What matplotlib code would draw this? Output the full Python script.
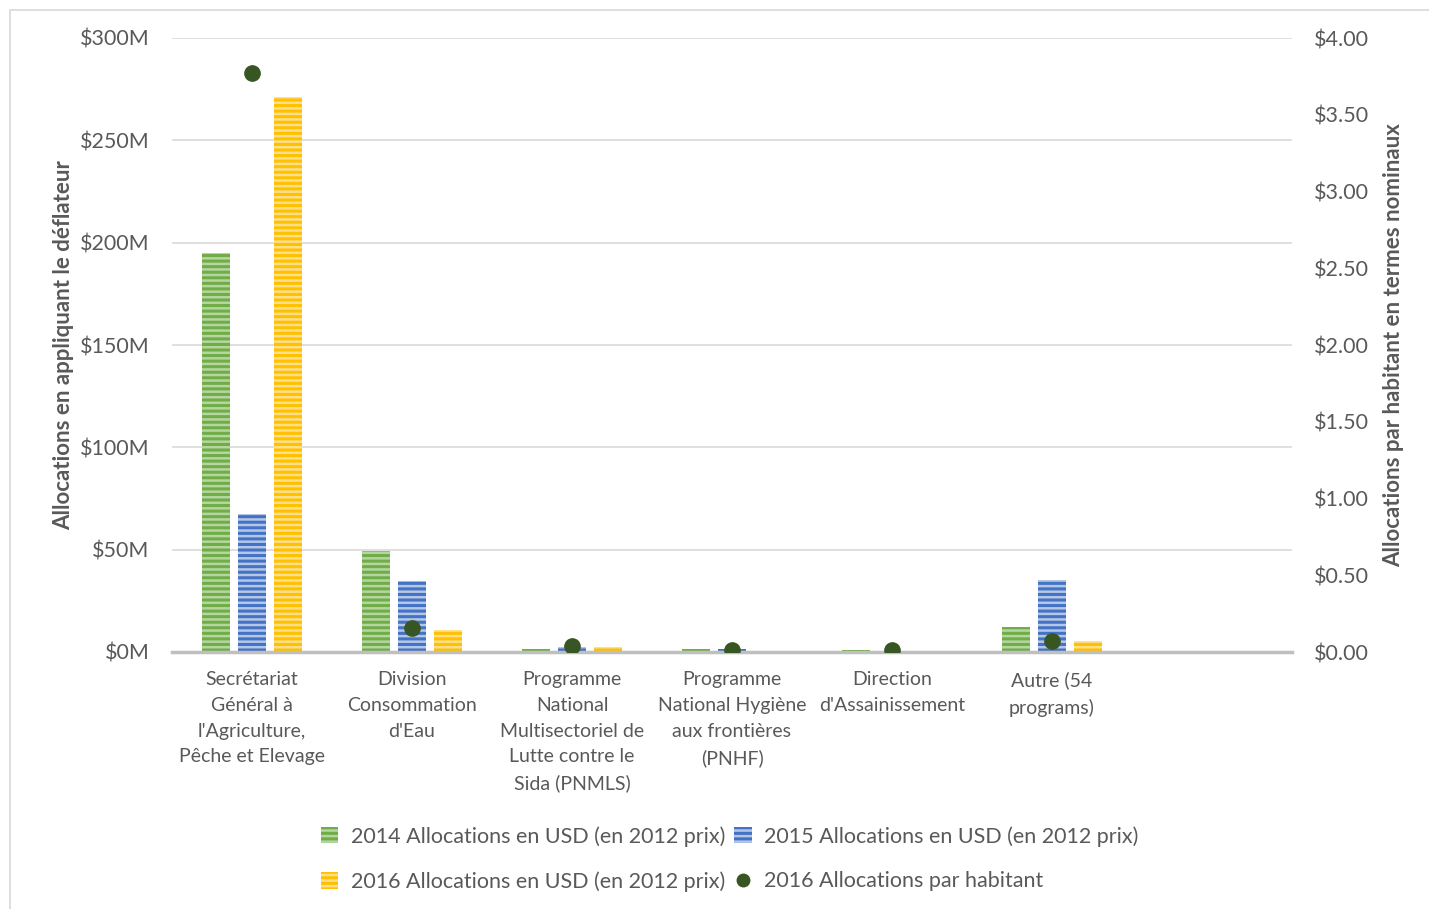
import numpy as np
import matplotlib.pyplot as plt
from matplotlib.lines import Line2D
from matplotlib.patches import Patch, Rectangle
from matplotlib.ticker import FuncFormatter

plt.rcParams['font.family'] = ['Lato', 'DejaVu Sans']
plt.rcParams['hatch.linewidth'] = 1.8

# data
categories = ["Secrétariat\nGénéral à\nl'Agriculture,\nPêche et Elevage",
              "Division\nConsommation\nd'Eau",
              "Programme\nNational\nMultisectoriel de\nLutte contre le\nSida (PNMLS)",
              "Programme\nNational Hygiène\naux frontières\n(PNHF)",
              "Direction\nd'Assainissement",
              "Autre (54\nprograms)",
              ""]
alloc_2014 = [195.0, 49.3, 1.5, 1.5, 1.0, 12.2, 0]      # millions USD
alloc_2015 = [67.4, 34.7, 2.5, 1.5, 0.3, 35.2, 0]
alloc_2016 = [271.0, 10.7, 2.5, 0.5, 0.5, 5.4, 0]
per_capita_2016 = [3.77, 0.156, 0.04, 0.013, 0.01, 0.072, np.nan]

series_labels = ["2014 Allocations en USD (en 2012 prix)",
                 "2015 Allocations en USD (en 2012 prix)",
                 "2016 Allocations en USD (en 2012 prix)",
                 "2016 Allocations par habitant"]
colors = ["#70ad47", "#4472c4", "#ffc000"]
stripe = ["#b5d6a0", "#b4c7e7", "#ffe08a"]
dot_color = "#375623"
txt = "#595959"

fig = plt.figure(figsize=(14.29, 9.09), dpi=100)
fig.patches.append(Rectangle((10/1429, -0.1), 1.1, (909-10)/909 + 0.1, transform=fig.transFigure,
                             fill=False, edgecolor="#d9d9d9", linewidth=1.2))
ax = fig.add_axes([172/1429, 1-652/909, 1120/1429, 614/909])
ax2 = ax.twinx()

x = np.arange(len(categories))
w = 0.18
offs = [-0.225, 0, 0.225]
for vals, c, sc, o in zip([alloc_2014, alloc_2015, alloc_2016], colors, stripe, offs):
    ax.bar(x + o, vals, w, color=c, edgecolor=sc, hatch='---', linewidth=0, zorder=3)

ax2.plot(x, per_capita_2016, 'o', color=dot_color, markersize=11, zorder=5, linestyle='none')

ax.set_xlim(-0.5, len(categories) - 0.5)
ax.set_ylim(0, 300)
ax.set_yticks(np.arange(0, 301, 50))
ax.yaxis.set_major_formatter(FuncFormatter(lambda v, p: f"${v:.0f}M"))
ax2.set_ylim(0, 4)
ax2.set_yticks(np.arange(0, 4.01, 0.5))
ax2.yaxis.set_major_formatter(FuncFormatter(lambda v, p: f"${v:.2f}"))

ax.grid(axis='y', color="#d9d9d9", linewidth=1.2, zorder=0)
ax.set_axisbelow(True)
for a in (ax, ax2):
    for s in a.spines.values():
        s.set_visible(False)
    a.tick_params(length=0, colors=txt, labelsize=15.5)
ax.spines['bottom'].set_visible(True)
ax.spines['bottom'].set_color("#bfbfbf")
ax.spines['bottom'].set_linewidth(2.5)
ax.spines['bottom'].set_zorder(4)
ax.tick_params(axis='y', pad=16)
ax2.tick_params(axis='y', pad=16)

ax.set_xticks(x)
ax.set_xticklabels(categories, fontsize=14, color=txt, linespacing=1.62)
ax.tick_params(axis='x', pad=14)

ax.set_ylabel("Allocations en appliquant le déflateur", fontsize=16, fontweight='bold', color=txt, labelpad=4)
ax2.set_ylabel("Allocations par habitant en termes nominaux", fontsize=16, fontweight='bold', color=txt, labelpad=10)

handles = [Patch(facecolor=c, edgecolor=sc, hatch='---', linewidth=0) for c, sc in zip(colors, stripe)]
handles.append(Line2D([], [], marker='o', color=dot_color, linestyle='none', markersize=9))
order = [0, 2, 1, 3]
fig.legend([handles[i] for i in order], [series_labels[i] for i in order], loc='center',
           bbox_to_anchor=(730/1429, 1-859/909), ncol=2,
           frameon=False, fontsize=15.5, labelcolor=txt, handlelength=0.8, handleheight=0.8,
           handletextpad=0.6, columnspacing=0.4, labelspacing=1.15)

fig.savefig("out.png", dpi=100)
